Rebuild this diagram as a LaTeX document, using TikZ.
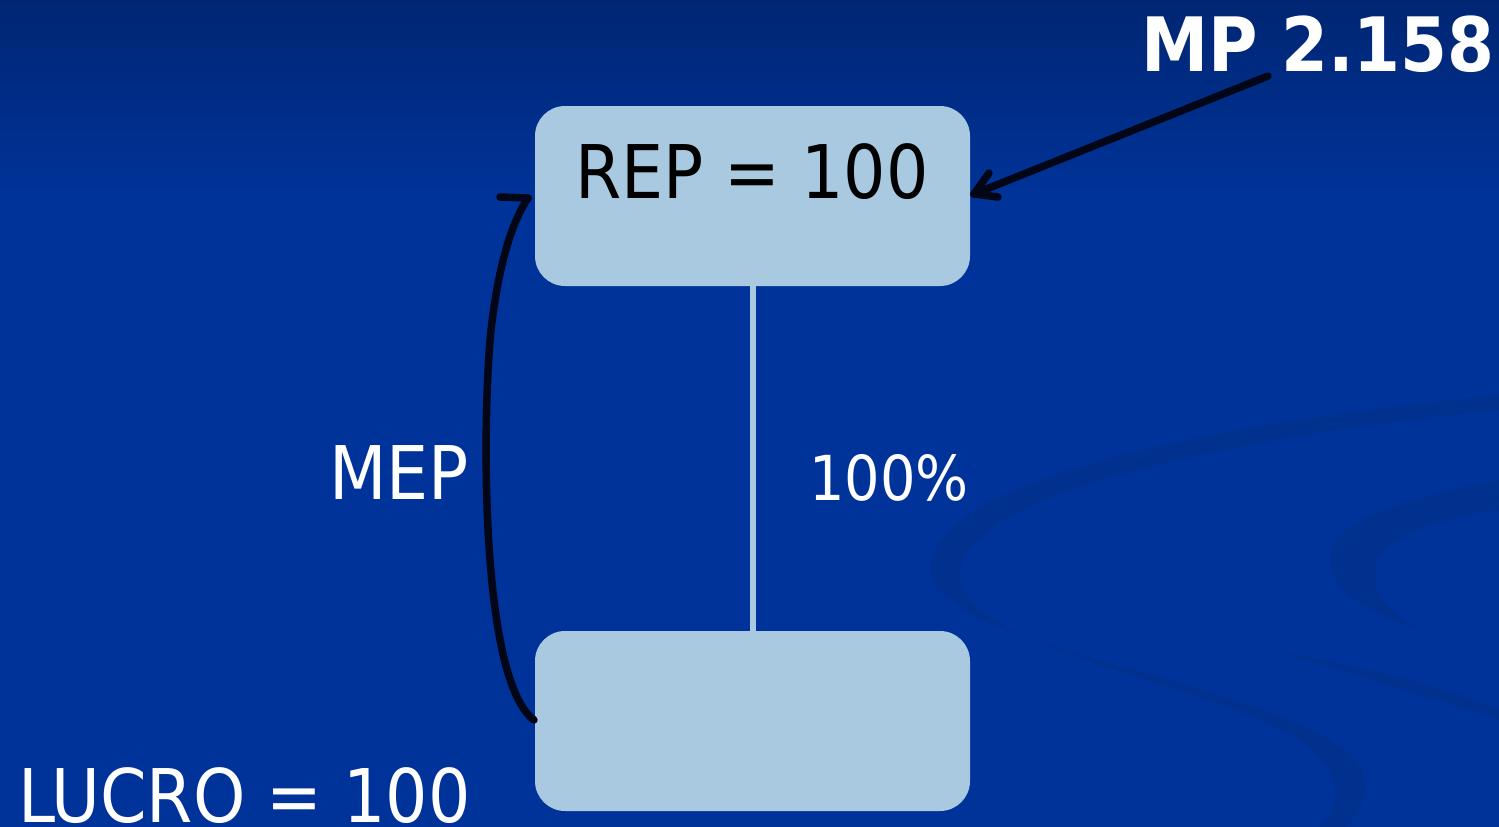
\documentclass[tikz,border=0pt]{standalone}
\usepackage{fontspec}
\setmainfont{DejaVu Sans Condensed}
\usetikzlibrary{arrows.meta}
\definecolor{bgtop}{HTML}{002673}
\definecolor{bgmid}{HTML}{003399}
\definecolor{swirl}{HTML}{00318F}
\definecolor{boxblue}{HTML}{A9C9E0}
\definecolor{ink}{HTML}{030616}
\tikzset{
  box/.style={fill=boxblue, rounded corners=30pt, minimum width=435pt, minimum height=180pt, inner sep=0pt},
  wlabel/.style={text=white, inner sep=0pt, font=\fontsize{74}{80}\selectfont},
  blink/.style={draw=ink, line width=7.5pt, line cap=round, line join=round},
}
\begin{document}
\begin{tikzpicture}[x=1pt,y=-1pt]
\useasboundingbox (0,0) rectangle (1499,827);
\shade[top color=bgtop, bottom color=bgmid, shading angle=0] (0,0) rectangle (1499,200);
\fill[bgmid] (0,199) rectangle (1499,827);
% swirls
\fill[swirl] (1499,395) .. controls (1150,430) and (930,490) .. (930,570)
  .. controls (930,650) and (1330,690) .. (1362,770) .. controls (1370,795) and (1360,815) .. (1345,827)
  -- (1320,827) .. controls (1345,800) and (1340,770) .. (1300,740)
  .. controls (1200,680) and (965,650) .. (960,575)
  .. controls (960,500) and (1200,440) .. (1499,410) -- cycle;
\fill[swirl] (1499,480) .. controls (1400,500) and (1330,520) .. (1330,560)
  .. controls (1330,590) and (1370,615) .. (1420,630)
  .. controls (1385,610) and (1372,590) .. (1375,570)
  .. controls (1380,540) and (1430,520) .. (1499,510) -- cycle;
\fill[swirl] (1270,650) .. controls (1350,665) and (1430,680) .. (1499,710) -- (1499,720) .. controls (1420,695) and (1350,672) .. (1270,650) -- cycle;
% boxes
\node[box] (rep) at (752.5,196) {};
\node[box] (luc) at (752.5,721) {};
\node[text=black, inner sep=0pt, font=\fontsize{74}{80}\selectfont] (reptext) at (752,172) {REP = 100};
\draw[boxblue, line width=6pt] (rep.south) -- (luc.north);
% labels
\node[wlabel, font=\fontsize{62}{70}\selectfont] (pct) at (889,478) {100\%};
\node[wlabel] (mep) at (399,473) {MEP};
\node[wlabel, anchor=base west] (lucro) at (18,822) {LUCRO = 100};
\node[wlabel, font=\fontsize{75}{80}\selectfont\bfseries] (mp) at (1318,44) {MP 2.158};
% arrows
\coordinate (mpend) at (1268,76);
\coordinate (reptip) at (974,194);
\draw[blink] (mpend) -- (reptip);
\draw[blink] (reptip) -- ++(24,3);
\draw[blink] (reptip) -- ++(15,-21);
\coordinate (mepstart) at (534,720);
\coordinate (meptip) at (528,198);
\draw[blink] (mepstart) .. controls (480,680) and (482,420) .. (491,330) .. controls (498,270) and (510,225) .. (meptip);
\draw[blink] (meptip) -- ++(-28,-1);
\end{tikzpicture}
\end{document}
